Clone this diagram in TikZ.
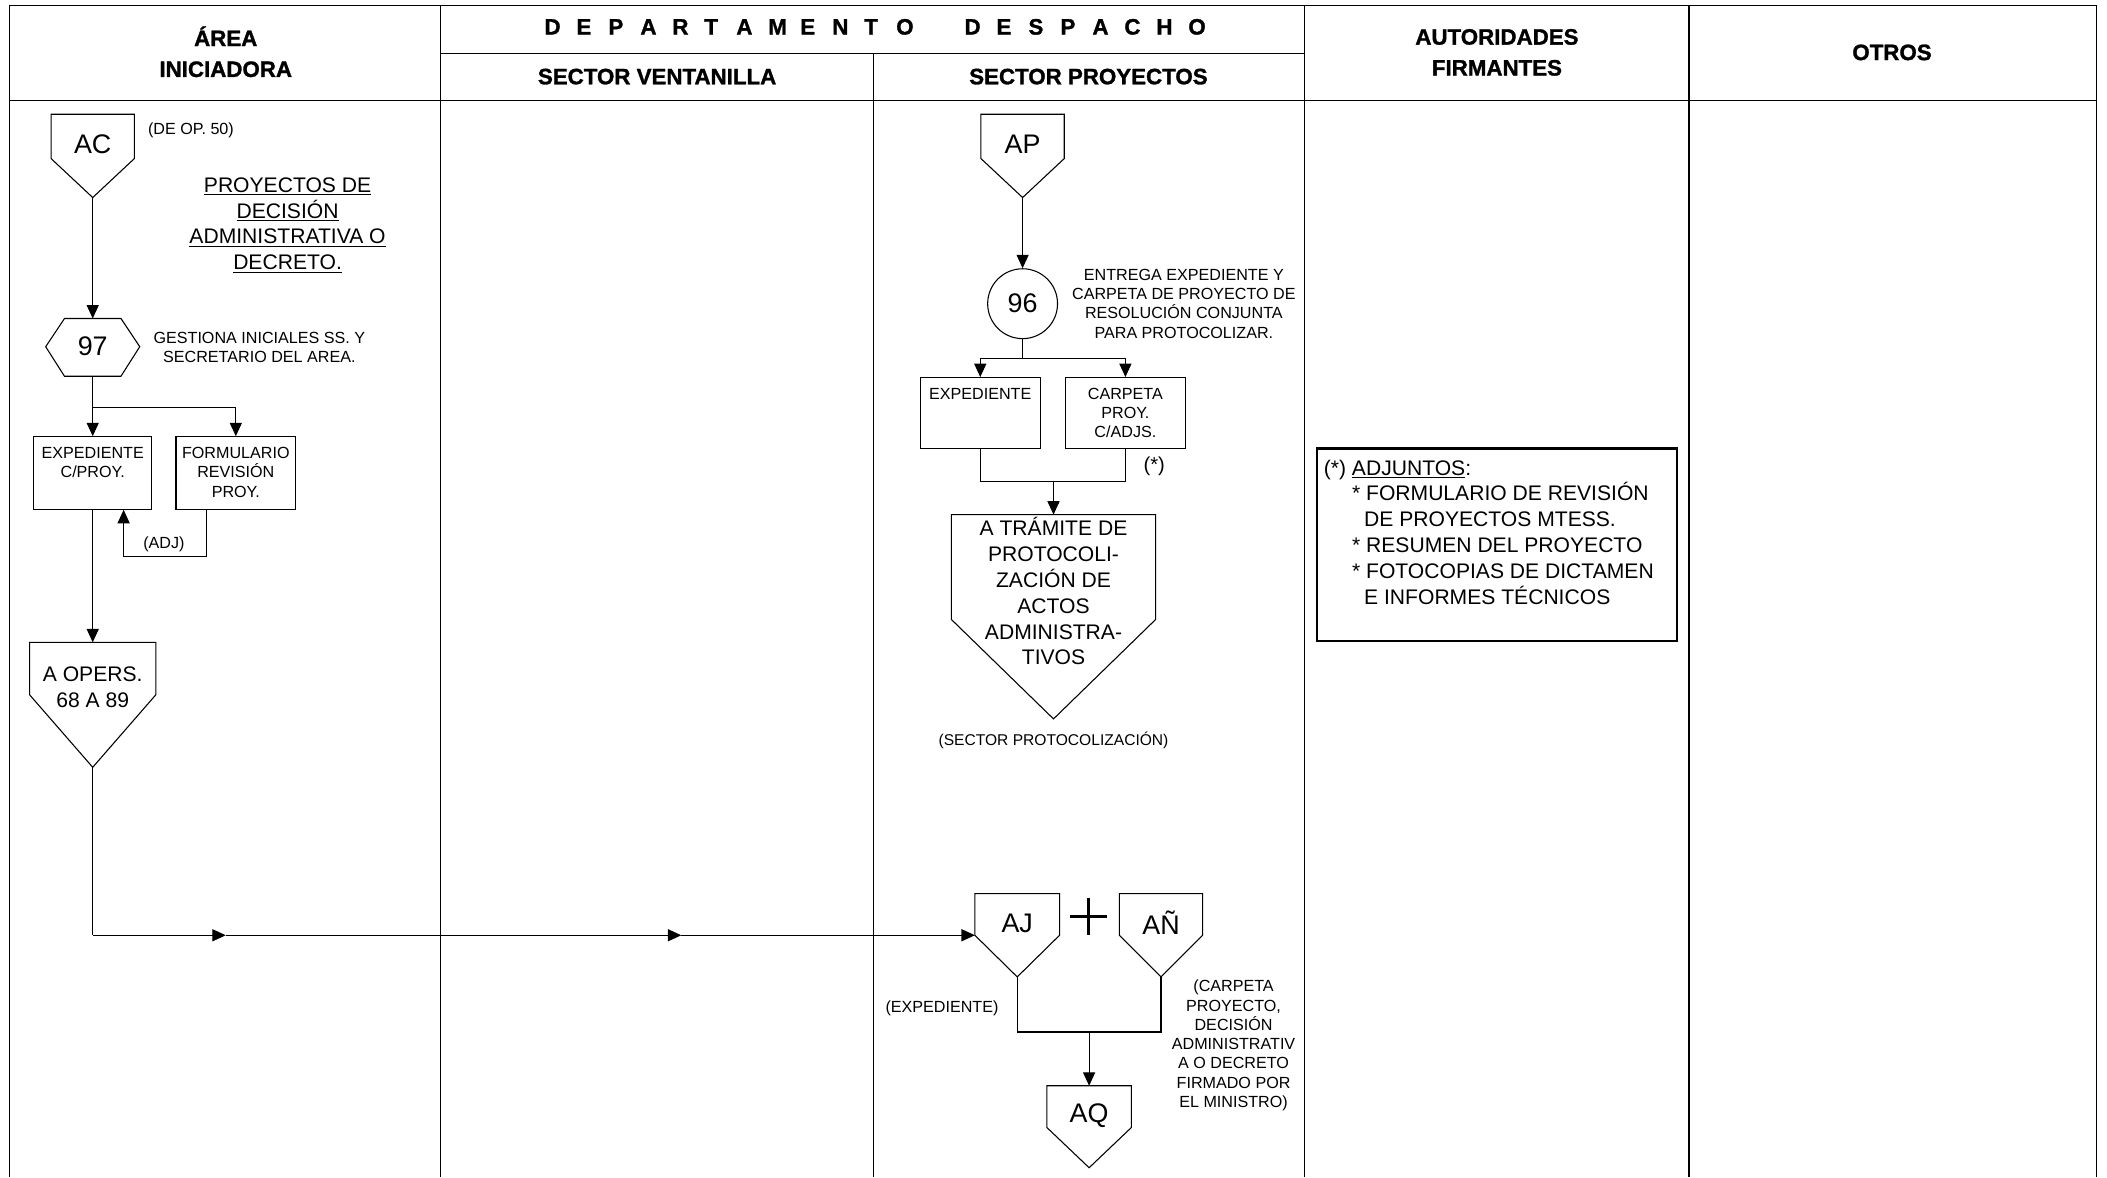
\documentclass[tikz,border=0pt]{standalone}
\usepackage{fontspec}
\setmainfont{Liberation Sans}
\newfontfamily\hdfont{Liberation Sans}[BoldFeatures={FakeBold=1.3}]
\usetikzlibrary{arrows.meta}
\newcommand\hdl[1]{\makebox[23.8pt][l]{#1}}
\newcommand\offpg[6]{% name, cx, halfw, top, sidebottom, tip
  \draw[shp] ({#2-#3},#4) -- ({#2+#3},#4) -- ({#2+#3},#5) -- (#2,#6) -- ({#2-#3},#5) -- cycle;
  \coordinate (#1-top) at (#2,#4);
  \coordinate (#1-tip) at (#2,#6);
  \coordinate (#1-w) at ({#2-#3},#5);
}
\begin{document}
\begin{tikzpicture}[x=1pt,y=-1pt,
  frame/.style={line width=1pt},
  shp/.style={line width=0.8pt},
  conn/.style={line width=0.8pt},
  arr/.style={line width=0.8pt,-{Triangle[length=10pt,width=9pt]}},
  hd/.style={font=\hdfont\fontsize{16.6}{23}\selectfont\bfseries, align=center, inner sep=0pt},
  sm/.style={font=\fontsize{12}{14.3}\selectfont, align=center, inner sep=0pt},
  md/.style={font=\fontsize{15.7}{19.2}\selectfont, align=center, inner sep=0pt},
  lg/.style={font=\fontsize{20}{24}\selectfont, inner sep=0pt},
  boxx/.style={draw, line width=0.8pt, inner sep=0pt},
]
\useasboundingbox (0,0) rectangle (1568,876);
% ---------------- frame ----------------
\draw[frame] (7,4) -- (1560,4);
\draw[frame] (7,75) -- (1560,75);
\draw[frame] (328,40) -- (971,40);
\draw[frame] (7,4) -- (7,876);
\draw[frame] (328,4) -- (328,876);
\draw[frame] (650,40) -- (650,876);
\draw[frame] (971,4) -- (971,876);
\draw[frame] (1257,4) -- (1257,876);
\draw[frame] (1560,4) -- (1560,876);
% ---------------- header ----------------
\node[hd] (h1) at (168,38.5) {ÁREA\\INICIADORA};
\node[hd, anchor=west] (h2) at (405,20) {\hdl{D}\hdl{E}\hdl{P}\hdl{A}\hdl{R}\hdl{T}\hdl{A}\hdl{M}\hdl{E}\hdl{N}\hdl{T}\hdl{O}\hspace{27pt}\hdl{D}\hdl{E}\hdl{S}\hdl{P}\hdl{A}\hdl{C}\hdl{H}O};
\node[hd] (h3) at (489,57) {SECTOR VENTANILLA};
\node[hd] (h4) at (810,57) {SECTOR PROYECTOS};
\node[hd] (h5) at (1114,39) {AUTORIDADES\\FIRMANTES};
\node[hd] (h6) at (1408,39) {OTROS};
% ---------------- area iniciadora ----------------
\offpg{AC}{69}{31}{85}{118}{147}
\node[lg] (ACt) at (69,107) {AC};
\node[sm, anchor=west] (deop) at (110,97) {(DE OP. 50)};
\node[md] (title) at (214,167.5) {\underline{PROYECTOS DE}\\\underline{DECISIÓN}\\\underline{ADMINISTRATIVA O}\\\underline{DECRETO.}};
\draw[shp] (34,258) -- (48,237) -- (90,237) -- (104,258) -- (90,280) -- (48,280) -- cycle;
\node[lg] (h97) at (69,258) {97};
\coordinate (h97-top) at (69,237);
\coordinate (h97-bot) at (69,280);
\node[sm] (gest) at (193,258.5) {GESTIONA INICIALES SS. Y\\SECRETARIO DEL AREA.};
\node[boxx, minimum width=88pt, minimum height=54pt] (exp1) at (69,352) {};
\node[sm] (exp1t) at (69,344) {EXPEDIENTE\\C/PROY.};
\node[boxx, minimum width=89pt, minimum height=54pt] (form) at (175.5,352) {};
\node[sm] (formt) at (175.5,351.5) {FORMULARIO\\REVISIÓN\\PROY.};
\draw[arr] (AC-tip) -- (h97-top);
\coordinate (br1) at (69,303);
\coordinate (br1r) at (175.5,303);
\draw[arr] (h97-bot) -- (exp1.north);
\draw[arr] (br1) -- (br1r) -- (form.north);
\coordinate (adjA) at (154,414);
\coordinate (adjB) at (92,414);
\draw[arr] (adjA |- form.south) -- (adjA) -- (adjB) -- (adjB |- exp1.south);
\node[sm] (adj) at (122,405) {(ADJ)};
\offpg{AO}{69}{47}{478}{517}{571}
\node[md] (AOt) at (69,511.5) {A OPERS.\\68 A 89};
\draw[arr] (exp1.south) -- (AO-top);
\coordinate (c1) at (69,696);
\coordinate (m1) at (168,696);
\coordinate (m2) at (507,696);
% ---------------- sector proyectos ----------------
\offpg{AP}{761}{31}{85}{118}{147}
\node[lg] (APt) at (761,107) {AP};
\node[circle, draw, line width=0.8pt, minimum size=52pt, inner sep=0pt, font=\fontsize{20}{24}\selectfont] (c96) at (761,226) {96};
\draw[arr] (AP-tip) -- (c96.north);
\node[sm] (entrega) at (881,226) {ENTREGA EXPEDIENTE Y\\CARPETA DE PROYECTO DE\\RESOLUCIÓN CONJUNTA\\PARA PROTOCOLIZAR.};
\node[boxx, minimum width=89pt, minimum height=53pt] (exp2) at (729.5,307.5) {};
\node[sm] (exp2t) at (729.5,293) {EXPEDIENTE};
\node[boxx, minimum width=89pt, minimum height=53pt] (carp) at (837.5,307.5) {};
\node[sm] (carpt) at (837.5,307.5) {CARPETA\\PROY.\\C/ADJS.};
\coordinate (br2) at (761,267);
\draw[conn] (c96.south) -- (br2);
\draw[arr] (br2) -- (exp2.north |- br2) -- (exp2.north);
\draw[arr] (br2) -- (carp.north |- br2) -- (carp.north);
\coordinate (j2) at (784,358);
\draw[conn] (exp2.south) -- (exp2.south |- j2) -- (carp.south |- j2) -- (carp.south);
\node[font=\fontsize{15}{18}\selectfont, inner sep=0pt] (ast) at (859,347) {(*)};
\offpg{AT}{784}{76}{383}{461}{535}
\draw[arr] (j2) -- (AT-top);
\node[md] (ATt) at (784,440) {A TRÁMITE DE\\PROTOCOLI-\\ZACIÓN DE\\ACTOS\\ADMINISTRA-\\TIVOS};
\node[sm, font=\fontsize{11.6}{14}\selectfont] (secp) at (784,551) {(SECTOR PROTOCOLIZACIÓN)};
\offpg{AJ}{757}{31.5}{665}{696}{727}
\node[lg] (AJt) at (757,687) {AJ};
\offpg{AN}{864}{31}{665}{696}{727}
\node[lg] (ANt) at (864,687) {AÑ};
\draw[line width=2.2pt] (796,682) -- (824,682) (810,668) -- (810,696);
\offpg{AQ}{810.5}{31.5}{808}{839}{869}
\node[lg] (AQt) at (810.5,830) {AQ};
\coordinate (j3) at (810.5,768);
\draw[conn] (AJ-tip) -- (AJ-tip |- j3) -- (AN-tip |- j3) -- (AN-tip);
\draw[arr] (j3) -- (AQ-top);
\node[sm] (expn) at (701,750) {(EXPEDIENTE)};
\node[sm] (carpn) at (918,778) {(CARPETA\\PROYECTO,\\DECISIÓN\\ADMINISTRATIV\\A O DECRETO\\FIRMADO POR\\EL MINISTRO)};
% long flow
\draw[conn] (AO-tip) -- (c1);
\draw[arr] (c1) -- (m1);
\draw[arr] (m1) -- (m2);
\draw[arr] (m2) -- (AJ-w);
% ---------------- adjuntos ----------------
\node[draw, line width=2pt, minimum width=268pt, minimum height=143pt, inner sep=0pt] (adjbox) at (1114,405.5) {};
\node[md, align=left, anchor=west] (adjt) at (985,396) {(*) \underline{ADJUNTOS}:\\
\hspace*{21pt}* FORMULARIO DE REVISIÓN\\
\hspace*{30pt}DE PROYECTOS MTESS.\\
\hspace*{21pt}* RESUMEN DEL PROYECTO\\
\hspace*{21pt}* FOTOCOPIAS DE DICTAMEN\\
\hspace*{30pt}E INFORMES TÉCNICOS};
\end{tikzpicture}
\end{document}
